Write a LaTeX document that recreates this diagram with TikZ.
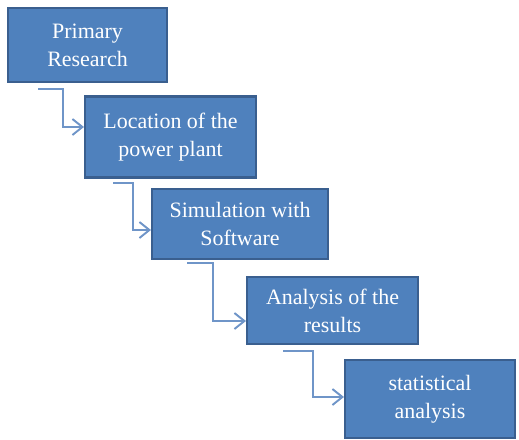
\documentclass[tikz,border=0pt]{standalone}
\usepackage{fontspec}
\setmainfont{Liberation Serif}
\usetikzlibrary{arrows.meta}
\definecolor{boxblue}{HTML}{4F81BD}
\definecolor{boxedge}{HTML}{3A5F8F}
\definecolor{linkblue}{HTML}{6F95C8}

\begin{document}
\begin{tikzpicture}[x=0.02cm,y=-0.02cm,
  box/.style={rectangle,draw=boxedge,line width=1.2pt,fill=boxblue,text=white,align=center,inner sep=0pt,font=\fontsize{12.5}{16}\selectfont},
  link/.style={linkblue,line width=1.1pt,-{Straight Barb[length=2mm,width=3.2mm]}}]
\useasboundingbox (0,0) rectangle (519,439);
\node[box,minimum width=3.18cm,minimum height=1.48cm] (prim) at (87.5,45){Primary\\Research};
\node[box,minimum width=3.42cm,minimum height=1.62cm] (loc) at (170.5,137){Location of the\\power plant};
\node[box,minimum width=3.52cm,minimum height=1.40cm] (sim) at (240,224){Simulation with\\Software};
\node[box,minimum width=3.42cm,minimum height=1.34cm] (res) at (332.5,310.5){Analysis of the\\results};
\node[box,minimum width=3.40cm,minimum height=1.56cm] (stat) at (430,399){statistical\\analysis};
\coordinate (s1) at (38,89);\coordinate (s2) at (113,183);\coordinate (s3) at (187,263);\coordinate (s4) at (283,351);
\draw[link] (s1) -- ++(25,0) |- ([yshift=0.2cm]loc.west);
\draw[link] (s2) -- ++(20,0) |- ([yshift=-0.12cm]sim.west);
\draw[link] (s3) -- ++(26,0) |- ([yshift=-0.21cm]res.west);
\draw[link] (s4) -- ++(30,0) |- ([yshift=0.04cm]stat.west);
\end{tikzpicture}
\end{document}
